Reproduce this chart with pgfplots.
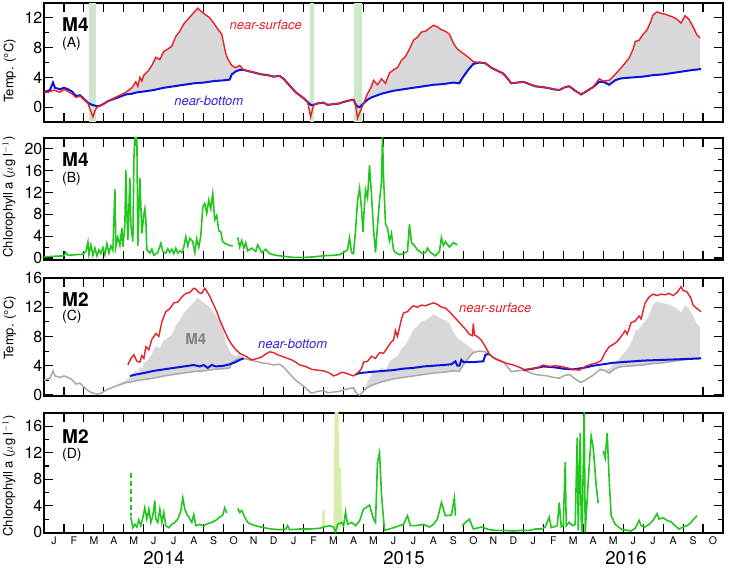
\documentclass[border=0pt]{standalone}
\usepackage{fontspec}
\setmainfont{TeX Gyre Heros}
\usepackage{pgfplots}
\usepackage{pgfplotstable}
\pgfplotsset{compat=1.18}

\definecolor{sred}{RGB}{232,32,40}
\definecolor{bblue}{RGB}{10,20,220}
\definecolor{lblue}{RGB}{60,30,220}
\definecolor{chl}{RGB}{34,198,30}
\definecolor{palechl}{RGB}{214,238,168}
\definecolor{gfill}{RGB}{216,216,218}
\definecolor{gline}{RGB}{168,168,168}
\definecolor{barg}{RGB}{206,230,202}
\definecolor{mgray}{RGB}{130,130,130}

% M4 near-surface temperature (months since 1 Jan 2014)
\pgfplotstableread{
m T
0 1.9
0.3 2.1
0.5 2.3
0.8 2.0
1.0 2.4
1.2 2.1
1.4 1.8
1.6 1.3
1.8 1.5
2.0 1.0
2.2 0.5
2.35 -0.6
2.45 -1.3
2.55 -0.5
2.65 0.0
2.9 0.3
3.2 0.8
3.5 1.2
3.8 1.6
4.1 2.0
4.4 2.6
4.6 3.4
4.7 2.8
4.8 4.0
4.9 3.5
5.0 4.3
5.2 4.8
5.4 5.6
5.6 6.7
5.8 6.4
6.0 7.5
6.2 7.8
6.4 8.2
6.6 9.5
6.8 10.2
7.0 11.2
7.2 11.8
7.4 12.4
7.6 13.0
7.7 13.3
7.9 12.8
8.1 12.4
8.3 12.0
8.5 11.3
8.7 10.5
8.9 9.8
9.0 8.5
9.1 7.2
9.2 6.5
9.4 5.6
9.6 5.3
9.8 5.6
9.9 5.3
10.0 5.0
10.3 4.8
10.6 4.6
10.9 4.4
11.2 4.3
11.5 4.1
11.8 4.2
12.0 3.8
12.2 3.2
12.4 2.6
12.6 2.0
12.8 1.6
13.0 1.2
13.2 0.7
13.35 -1.3
13.5 0.3
13.7 0.5
14.0 0.6
14.2 0.3
14.5 0.4
14.8 0.5
15.0 0.7
15.3 0.9
15.5 1.0
15.6 0.4
15.7 -1.5
15.8 -0.8
16.0 0.5
16.2 1.8
16.4 2.8
16.5 3.6
16.7 3.0
16.9 3.8
17.1 3.2
17.3 4.6
17.5 5.0
17.7 5.3
17.9 6.3
18.1 6.8
18.3 7.8
18.5 9.0
18.7 9.4
18.9 10.1
19.1 10.2
19.3 10.6
19.5 11.0
19.7 10.8
19.9 10.4
20.1 10.2
20.3 9.8
20.5 8.6
20.7 7.8
20.9 7.4
21.1 7.0
21.3 6.6
21.5 6.1
21.8 6.0
22.1 5.9
22.4 5.3
22.7 4.9
23.0 4.5
23.2 3.9
23.4 3.2
23.7 3.3
24.0 3.4
24.3 3.1
24.6 2.8
24.9 2.7
25.2 2.6
25.5 2.4
25.8 2.3
26.1 2.7
26.3 2.8
26.6 2.2
26.9 1.7
27.2 2.2
27.5 2.7
27.8 3.8
28.0 3.5
28.3 3.6
28.6 4.4
28.8 5.0
29.0 5.6
29.3 6.6
29.5 7.8
29.6 8.8
29.8 9.0
30.0 9.8
30.2 10.4
30.4 11.6
30.5 12.4
30.7 12.8
30.9 12.6
31.1 12.5
31.3 12.3
31.5 12.1
31.7 11.8
31.9 11.3
32.1 12.3
32.3 11.8
32.5 10.8
32.7 9.7
32.85 9.3
}\mfs

% M4 near-bottom temperature
\pgfplotstableread{
m T
0 2.0
0.3 2.3
0.45 3.3
0.55 2.6
0.8 2.4
1.0 2.6
1.2 2.4
1.4 2.1
1.6 1.5
1.8 1.6
2.0 1.1
2.2 0.6
2.4 0.3
2.55 0.2
2.7 0.1
2.9 0.3
3.2 0.8
3.5 1.1
3.8 1.4
4.1 1.7
4.4 1.8
4.7 2.0
5.0 2.1
5.5 2.3
6.0 2.6
6.5 2.8
7.0 3.0
7.5 3.2
8.0 3.3
8.5 3.5
9.0 3.6
9.3 3.7
9.4 4.4
9.6 4.8
9.8 5.0
10.0 5.0
10.3 4.8
10.6 4.6
10.9 4.4
11.2 4.3
11.5 4.1
11.8 4.2
12.0 3.8
12.2 3.2
12.4 2.6
12.6 2.0
12.8 1.6
13.0 1.2
13.2 0.7
13.35 0.3
13.5 0.3
13.7 0.5
14.0 0.6
14.2 0.3
14.5 0.4
14.8 0.5
15.0 0.7
15.3 0.9
15.5 1.0
15.6 0.4
15.7 0.1
15.8 0.0
16.0 0.5
16.2 1.0
16.4 1.3
16.6 1.5
16.9 1.8
17.2 2.0
17.5 2.2
18.0 2.4
18.5 2.6
19.0 2.8
19.5 3.0
20.0 3.1
20.5 3.3
20.8 3.2
20.9 3.7
21.1 4.5
21.3 5.2
21.5 5.8
21.8 6.0
22.1 5.9
22.4 5.3
22.7 4.9
23.0 4.5
23.2 3.9
23.4 3.2
23.7 3.3
24.0 3.4
24.3 3.1
24.6 2.8
24.9 2.7
25.2 2.6
25.5 2.4
25.8 2.3
26.1 2.7
26.3 2.8
26.6 2.2
26.9 1.7
27.2 2.2
27.5 2.7
27.8 3.4
28.0 3.4
28.3 3.0
28.6 3.6
28.8 3.8
29.0 3.9
29.5 4.0
30.0 4.1
30.5 4.3
31.0 4.4
31.5 4.6
32.0 4.8
32.5 5.0
32.85 5.1
32.9 5.1
}\mfb

% M4 chlorophyll a
\pgfplotstableread{
m C
0 0.2
0.5 0.3
1.0 0.4
1.1 1.0
1.2 0.5
1.6 0.6
1.95 0.7
2.1 1.2
2.2 2.9
2.25 0.6
2.35 2.4
2.45 0.5
2.55 1.8
2.65 0.4
2.75 1.5
2.85 0.8
2.95 1.9
3.05 0.6
3.15 2.6
3.25 0.9
3.35 2.2
3.45 1.4
3.55 12.6
3.6 2.0
3.7 3.8
3.8 2.3
3.9 5.5
3.95 2.0
4.05 6.0
4.1 16.1
4.15 8.5
4.2 3.3
4.3 14.7
4.35 6.0
4.45 3.0
4.5 18.0
4.55 22.5
4.6 20.5
4.65 22.5
4.7 2.2
4.8 14.7
4.9 4.5
5.0 8.0
5.05 9.0
5.1 7.0
5.15 1.5
5.3 0.9
5.4 1.6
5.5 0.5
5.7 1.0
5.85 2.7
5.95 1.2
6.1 0.9
6.2 1.7
6.3 1.0
6.4 1.6
6.5 0.8
6.6 1.8
6.7 0.9
6.8 1.3
6.9 1.0
7.0 2.0
7.1 3.9
7.2 2.2
7.3 3.6
7.45 3.0
7.55 1.0
7.65 3.5
7.75 2.0
7.85 4.0
7.95 9.3
8.05 10.0
8.15 8.2
8.25 10.6
8.35 9.0
8.45 11.8
8.55 7.0
8.65 7.8
8.75 5.0
8.85 4.8
8.95 3.0
9.1 2.6
9.3 2.3
9.45 2.2
9.5 nan
9.7 3.8
9.8 2.0
9.9 3.2
10.0 1.8
10.1 2.8
10.2 1.3
10.4 1.8
10.6 1.2
10.7 2.4
10.9 1.0
11.1 1.6
11.3 0.8
11.6 0.5
12.0 0.3
12.5 0.1
13.0 0.1
13.5 0.2
14.0 0.4
14.5 0.5
14.8 0.6
15.0 1.0
15.2 1.5
15.3 3.7
15.4 1.0
15.5 0.8
15.6 5.0
15.7 10.5
15.8 12.8
15.9 9.0
15.97 4.8
16.05 10.0
16.1 12.5
16.2 11.0
16.3 17.0
16.4 11.5
16.5 5.3
16.6 1.0
16.7 6.0
16.8 10.5
16.9 14.0
16.95 22.5
17.0 15.0
17.1 6.2
17.2 5.5
17.3 3.1
17.4 4.5
17.5 1.5
17.6 1.0
17.8 0.6
18.0 0.8
18.2 1.2
18.3 6.2
18.4 2.8
18.5 2.5
18.7 1.5
18.95 0.8
19.1 1.0
19.2 1.8
19.35 1.0
19.6 0.4
19.8 1.2
19.9 3.7
20.0 2.3
20.1 3.0
20.3 2.0
20.5 2.8
20.7 2.4
}\mfc

% M2 near-surface temperature
\pgfplotstableread{
m T
4.2 4.1
4.35 5.0
4.5 5.5
4.65 4.6
4.8 4.5
4.9 5.4
5.0 5.0
5.1 6.6
5.25 6.2
5.4 7.6
5.6 8.4
5.75 8.0
5.9 10.0
6.1 11.4
6.3 11.8
6.5 12.6
6.7 12.7
6.9 13.4
7.1 13.9
7.3 14.0
7.5 14.6
7.6 14.5
7.75 14.0
7.9 13.9
8.05 14.6
8.15 14.2
8.3 13.5
8.5 12.3
8.65 11.4
8.8 10.3
9.0 9.0
9.2 7.8
9.4 6.9
9.6 6.2
9.8 5.7
10.1 5.3
10.4 4.8
10.7 5.0
10.9 5.2
11.1 5.6
11.3 5.9
11.5 5.8
11.7 5.5
11.9 5.3
12.1 5.1
12.4 4.8
12.6 4.5
12.8 4.1
13.1 3.9
13.4 3.5
13.7 3.4
14.0 3.3
14.3 3.0
14.5 2.6
14.7 2.8
14.9 3.1
15.1 3.0
15.3 2.8
15.5 2.6
15.7 3.0
15.9 3.6
16.0 4.5
16.2 4.6
16.4 5.3
16.6 5.0
16.8 5.8
17.0 5.7
17.2 6.5
17.4 7.3
17.5 7.5
17.6 8.8
17.7 8.0
17.9 10.4
18.0 11.2
18.2 11.4
18.4 12.0
18.5 12.2
18.7 12.0
18.9 12.3
19.1 12.2
19.3 12.4
19.5 12.6
19.7 12.4
19.9 12.0
20.1 11.9
20.3 11.4
20.5 10.8
20.7 10.2
20.9 9.6
21.1 9.0
21.3 8.3
21.45 8.1
21.5 9.8
21.55 8.2
21.7 8.0
21.9 7.5
22.1 6.6
22.3 5.6
22.5 5.1
22.7 4.8
22.9 4.6
23.2 4.3
23.5 4.1
23.8 3.8
24.1 3.4
24.4 3.6
24.7 3.7
25.0 4.1
25.3 3.9
25.6 4.0
25.9 3.9
26.2 3.7
26.5 3.5
26.8 3.4
27.1 3.9
27.4 4.2
27.7 4.4
27.9 4.7
28.1 5.8
28.3 6.6
28.5 6.9
28.7 7.3
28.9 8.0
29.1 8.8
29.2 8.3
29.4 9.9
29.6 10.1
29.8 10.8
29.9 10.4
30.1 12.6
30.3 13.4
30.5 13.8
30.7 13.6
30.9 13.8
31.1 13.7
31.3 13.9
31.5 13.6
31.7 14.0
31.9 14.8
32.0 14.3
32.2 14.1
32.4 13.2
32.5 12.3
32.7 11.8
32.9 11.4
}\mts

% M2 near-bottom temperature
\pgfplotstableread{
m T
4.3 2.6
4.6 2.8
5.0 3.0
5.5 3.3
6.0 3.5
6.5 3.7
7.0 3.9
7.5 4.1
7.8 3.9
8.0 4.1
8.2 3.7
8.4 4.1
8.6 3.9
9.0 4.0
9.3 4.2
9.6 4.5
9.8 4.8
10.0 5.0
10.1 nan
15.6 2.8
15.8 3.0
16.2 3.1
16.6 3.2
17.0 3.3
17.5 3.4
18.0 3.6
18.5 3.7
19.0 3.9
19.5 4.0
20.0 4.1
20.4 4.2
20.6 4.6
20.7 4.0
20.8 4.0
20.9 4.8
21.0 4.5
21.5 4.5
22.0 4.6
22.1 5.5
22.3 5.6
22.4 nan
24.0 3.4
24.5 3.6
25.0 3.9
25.5 3.8
26.0 3.6
26.5 3.5
27.0 3.7
27.5 4.0
28.0 4.2
28.5 4.4
29.0 4.5
29.5 4.6
30.0 4.7
31.0 4.8
32.0 4.9
32.9 5.0
}\mtb

% M2 chlorophyll a
\pgfplotstableread{
m C
4.35 2.3
4.45 0.7
4.55 1.2
4.65 0.8
4.75 1.9
4.85 1.0
4.95 2.2
5.05 3.7
5.15 2.0
5.25 3.5
5.35 1.5
5.45 2.5
5.55 4.8
5.6 2.0
5.7 1.5
5.8 3.5
5.9 1.5
6.0 3.0
6.1 1.0
6.25 0.7
6.4 1.2
6.55 1.5
6.7 2.0
6.85 3.2
6.95 5.2
7.05 3.5
7.15 2.8
7.3 2.0
7.4 1.5
7.5 2.7
7.6 1.0
7.8 1.2
8.0 1.0
8.2 1.3
8.4 1.5
8.6 1.8
8.8 2.3
8.95 2.6
9.05 3.7
9.15 2.9
9.2 nan
9.7 3.6
9.8 3.0
9.9 3.3
10.05 2.3
10.2 1.5
10.4 1.2
10.7 0.9
11.0 0.7
11.4 0.5
11.8 0.4
12.1 0.5
12.2 1.0
12.3 0.4
12.8 0.5
13.3 0.5
13.8 0.6
14.0 0.8
14.3 1.0
14.5 0.8
14.6 0.0
14.7 1.2
14.9 1.5
15.0 1.0
15.1 3.1
15.2 1.2
15.4 1.5
15.6 1.0
15.8 1.7
16.0 3.5
16.1 3.7
16.3 4.1
16.5 2.0
16.6 1.5
16.7 10.6
16.8 12.0
16.85 9.0
16.9 5.7
17.05 0.3
17.3 0.5
17.6 0.8
17.8 1.0
18.0 1.2
18.2 2.5
18.35 1.0
18.6 1.0
19.0 1.2
19.3 0.8
19.5 1.2
19.7 2.0
19.9 4.5
20.0 3.5
20.1 2.5
20.4 2.6
20.55 5.2
20.6 2.5
20.7 nan
20.95 1.0
21.1 1.5
21.3 2.0
21.5 0.5
21.9 0.8
22.3 0.4
22.6 0.3
23.0 0.3
23.5 0.2
23.9 0.3
24.3 0.3
24.6 0.5
24.9 0.5
25.1 0.8
25.3 2.3
25.4 0.7
25.6 0.9
25.7 1.0
25.8 4.5
25.9 0.8
26.0 1.0
26.1 10.6
26.15 1.0
26.3 1.5
26.45 1.0
26.6 1.2
26.7 14.3
26.75 0.3
26.85 15.0
26.9 2.0
26.95 0.0
27.05 19.0
27.1 0.0
27.2 5.0
27.3 10.0
27.4 14.5
27.5 12.8
27.6 9.0
27.65 7.0
27.75 4.4
27.85 nan
28.0 12.3
28.1 11.2
28.2 15.0
28.3 8.0
28.4 2.5
28.6 1.2
28.9 0.5
29.2 0.3
29.4 0.2
29.6 0.6
29.8 1.8
29.9 1.0
30.1 0.8
30.3 1.2
30.5 1.8
30.7 2.8
30.8 2.0
31.0 2.2
31.2 1.8
31.4 1.6
31.6 1.0
31.8 0.5
32.0 0.8
32.2 1.0
32.4 1.5
32.6 2.2
32.7 2.5
}\mtc

% M2 chlorophyll a, flagged values (pale)
\pgfplotstableread{
m C
13.95 0.8
14.0 3.4
14.05 0.8
14.1 nan
14.55 0.5
14.6 18.5
14.65 0.5
14.7 18.5
14.75 0.5
14.82 9.7
14.88 0.8
}\mtcp

\pgfplotsset{
  panel/.style={
    scale only axis, width=679pt, anchor=south west,
    xmin=0, xmax=34,
    xtick={1,...,33}, xticklabels={},
    tick align=inside, xtick pos=both, ytick pos=both,
    yticklabel pos=left,
    major tick length=9pt, minor tick length=5pt,
    minor y tick num=1,
    axis line style={line width=1.2pt},
    every tick/.append style={black, line width=1.1pt},
    tick label style={font=\fontsize{16}{18}\selectfont},
    yticklabel style={inner xsep=1.5pt},
    /pgf/number format/assume math mode=true,
  },
}
\tikzset{
  lab/.style={font=\fontsize{19}{20}\selectfont\bfseries, anchor=base west, inner sep=0pt},
  sub/.style={font=\fontsize{14}{15}\selectfont, anchor=base west, inner sep=0pt},
}
% grey area between M4 near-surface and near-bottom, per warm season
\newcommand\mfourarea{%
  \addplot[fill=gfill, draw=none, restrict x to domain=3:10.2] table {\mfs} \closedcycle;
  \addplot[fill=white, draw=none, restrict x to domain=2.85:10.4] table {\mfb} \closedcycle;
  \addplot[fill=gfill, draw=none, restrict x to domain=16:21.8] table {\mfs} \closedcycle;
  \addplot[fill=white, draw=none, restrict x to domain=15.75:22.2] table {\mfb} \closedcycle;
  \addplot[fill=gfill, draw=none, restrict x to domain=27.6:32.85] table {\mfs} \closedcycle;
  \addplot[fill=white, draw=none, restrict x to domain=27.4:32.95] table {\mfb} \closedcycle;
}

\begin{document}
\begin{tikzpicture}
\useasboundingbox (0,0) rectangle (732pt,569pt);

% (A) M4 temperature
\begin{axis}[panel, at={(44pt,447pt)}, height=119pt,
  ymin=-2, ymax=14, ytick={0,4,8,12}]
\addplot[barg, line width=6.4pt] coordinates {(2.43,-2) (2.43,14)};
\addplot[barg, line width=4pt] coordinates {(13.4,-2) (13.4,14)};
\addplot[barg, line width=8pt] coordinates {(15.7,-2) (15.7,14)};
\mfourarea
\addplot[bblue, line width=2pt] table {\mfb};
\addplot[sred, line width=1.4pt] table {\mfs};
\node[lab] at (axis cs:0.9,10.15) {M4};
\node[sub] at (axis cs:0.9,7.95) {(A)};
\node[font=\fontsize{13}{14}\selectfont\itshape, text=sred] at (axis cs:11.1,11.05) {near-surface};
\node[font=\fontsize{13}{14}\selectfont\itshape, text=lblue] at (axis cs:8.25,0.8) {near-bottom};
\end{axis}

% (B) M4 chlorophyll
\begin{axis}[panel, at={(44pt,309pt)}, height=122pt,
  ymin=-0.37, ymax=22, ytick={0,4,8,12,16,20}, unbounded coords=jump]
\addplot[chl, line width=1.6pt] table {\mfc};
\node[lab] at (axis cs:0.9,16.75) {M4};
\node[sub] at (axis cs:0.9,13.9) {(B)};
\end{axis}

% (C) M2 temperature
\begin{axis}[panel, at={(44pt,173pt)}, height=118pt,
  ymin=-0.14, ymax=16, ytick={0,4,8,12,16}]
\mfourarea
\addplot[gline, line width=1.5pt] table {\mfb};
\addplot[bblue, line width=2pt, unbounded coords=jump] table {\mtb};
\addplot[sred, line width=1.4pt] table {\mts};
\node[lab] at (axis cs:0.9,12.08) {M2};
\node[sub] at (axis cs:0.9,10.2) {(C)};
\node[font=\fontsize{15}{16}\selectfont\bfseries, text=mgray] at (axis cs:7.6,7.7) {M4};
\node[font=\fontsize{13}{14}\selectfont\itshape, text=sred] at (axis cs:22.6,11.9) {near-surface};
\node[font=\fontsize{13}{14}\selectfont\itshape, text=lblue] at (axis cs:12.45,7.0) {near-bottom};
\end{axis}

% (D) M2 chlorophyll
\begin{axis}[panel, at={(44pt,36pt)}, height=120pt,
  ymin=-0.1, ymax=18, ytick={0,4,8,12,16}, unbounded coords=jump,
  extra x ticks={0.5,1.5,...,33.5},
  extra x tick labels={J,F,M,A,M,J,J,A,S,O,N,D,J,F,M,A,M,J,J,A,S,O,N,D,J,F,M,A,M,J,J,A,S,O},
  extra x tick style={major tick length=0pt,
    tick label style={font=\fontsize{10.5}{12}\selectfont}}]
\addplot[palechl, line width=2pt] table {\mtcp};
\addplot[chl, line width=1.6pt, dash pattern=on 5pt off 3pt] coordinates {(4.35,9.0) (4.35,2.4)};
\addplot[chl, line width=1.6pt] table {\mtc};
\node[lab] at (axis cs:0.9,13.4) {M2};
\node[sub] at (axis cs:0.9,11.1) {(D)};
\end{axis}

% axis titles and years
\node[rotate=90, font=\fontsize{13}{14}\selectfont] at (10pt,498pt) {Temp. (°C)};
\node[rotate=90, font=\fontsize{13}{14}\selectfont] at (10pt,241pt) {Temp. (°C)};
\node[rotate=90, font=\fontsize{13}{14}\selectfont] at (9pt,372pt) {Chlorophyll a ($\mu$g l$^{-1}$)};
\node[rotate=90, font=\fontsize{13}{14}\selectfont] at (9pt,93pt) {Chlorophyll a ($\mu$g l$^{-1}$)};
\node[font=\fontsize{18.5}{20}\selectfont, anchor=base, inner sep=0pt] at (164pt,4.5pt) {2014};
\node[font=\fontsize{18.5}{20}\selectfont, anchor=base, inner sep=0pt] at (404pt,4.5pt) {2015};
\node[font=\fontsize{18.5}{20}\selectfont, anchor=base, inner sep=0pt] at (626pt,4.5pt) {2016};
\end{tikzpicture}
\end{document}
